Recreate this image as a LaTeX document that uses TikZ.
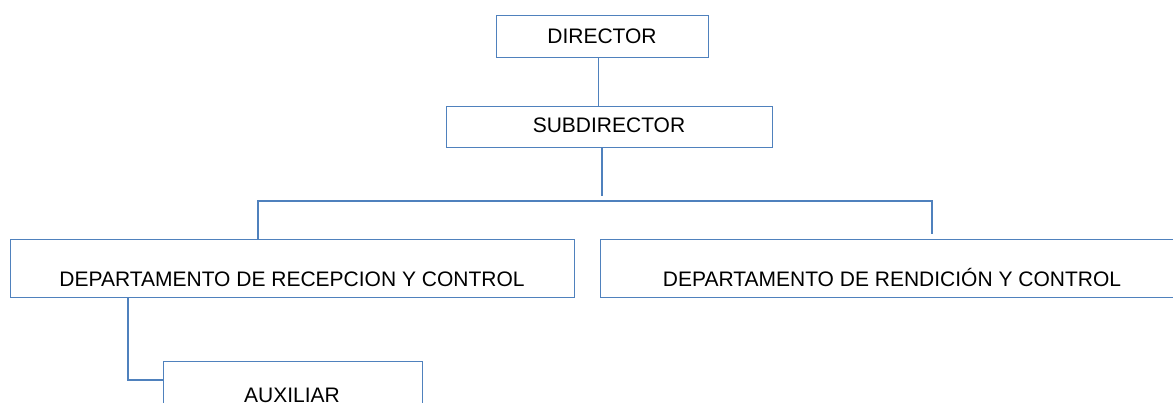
\documentclass[tikz,border=0pt]{standalone}
\usepackage{fontspec}
\setmainfont{Liberation Sans}
\definecolor{linec}{RGB}{79,129,189}
\begin{document}
\begin{tikzpicture}[x=1pt,y=-1pt,
  box/.style={draw=linec,line width=1.1pt,fill=white,rectangle,inner sep=0pt,anchor=north west},
  lbl/.style={anchor=base,inner sep=0pt,font=\fontsize{21}{25}\selectfont,text=black},
  conn/.style={draw=linec,line width=1.1pt}]
\useasboundingbox (0,0) rectangle (1173,403);
\clip (0,0) rectangle (1173,403);
\fill[white] (0,0) rectangle (1173,403);
% boxes
\node[box,minimum width=212pt,minimum height=42pt] (dir) at (496,15) {};
\node[box,minimum width=326pt,minimum height=41pt] (sub) at (446,106) {};
\node[box,minimum width=564pt,minimum height=58pt] (dl) at (10,239) {};
\node[box,minimum width=584pt,minimum height=58pt] (dr) at (600,239) {};
\node[box,minimum width=259pt,minimum height=60pt] (aux) at (163,361) {};
% texts
\node[lbl] (tdir) at (602,44) {DIRECTOR};
\node[lbl] (tsub) at (609,133) {SUBDIRECTOR};
\node[lbl] (tdl) at (292,287) {DEPARTAMENTO DE RECEPCION Y CONTROL};
\node[lbl] (tdr) at (892,287) {DEPARTAMENTO DE RENDICIÓN Y CONTROL};
\node[lbl] (taux) at (292,402) {AUXILIAR};
% connector coordinates
\coordinate (hub) at (602,196);
\coordinate (hl) at (258,201);
\coordinate (hr) at (932,201);
% connectors
\draw[conn] ([xshift=-4pt]dir.south) -- ([xshift=-4pt]dir.south |- sub.north);
\draw[conn] (sub.south -| hub) -- (hub);
\draw[conn] (hl |- dl.north) -- (hl) -- (hr) -- ([yshift=5pt]hr |- dr.north);
\draw[conn] ([xshift=118pt]dl.south west) |- ([yshift=-19pt]aux.north west);
\end{tikzpicture}
\end{document}
